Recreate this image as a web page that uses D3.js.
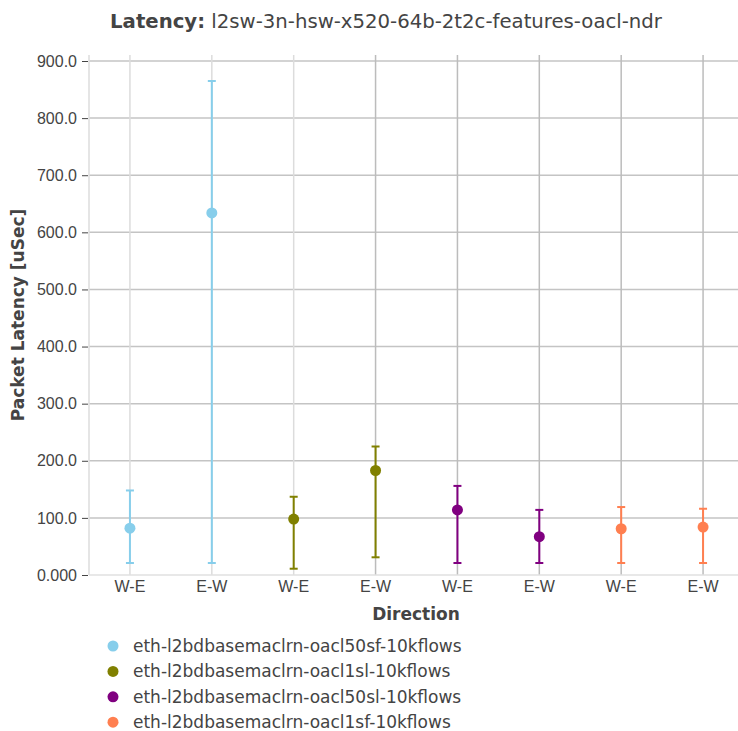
<!DOCTYPE html>
<html>
<head>
<meta charset="utf-8">
<script src="https://cdn.jsdelivr.net/npm/d3@7"></script>
<style>
  body { margin: 0; background: #fff; }
  svg { font-family: "DejaVu Sans", sans-serif; }
</style>
</head>
<body>
<svg id="chart"></svg>
<script>
// chart data
var seriesNames = [
  "eth-l2bdbasemaclrn-oacl50sf-10kflows",
  "eth-l2bdbasemaclrn-oacl1sl-10kflows",
  "eth-l2bdbasemaclrn-oacl50sl-10kflows",
  "eth-l2bdbasemaclrn-oacl1sf-10kflows"
];
var seriesColors = ["#87ceeb", "#808000", "#800080", "#ff7f50"];
var directions = ["W-E", "E-W"];
// per series: [W-E, E-W]
var avgValues = [[82, 634], [98, 183], [114, 67], [81, 84]];
var maxValues = [[148, 865], [137, 225], [156, 114], [119, 116]];
var minValues = [[21, 21], [11, 31], [21, 21], [21, 21]];
var yTicks = [0, 100, 200, 300, 400, 500, 600, 700, 800, 900];

var width = 738, height = 731;
var margin = {left: 89, top: 61, right: -6, bottom: 156};
var TextColor = "#444";

var svg = d3.select("#chart")
    .attr("width", width)
    .attr("height", height);

// one slot per (series, direction)
var slots = [];
seriesNames.forEach(function(name, s) {
  directions.forEach(function(dir, d) {
    slots.push({key: s + "-" + d, s: s, dir: dir,
                avg: avgValues[s][d], max: maxValues[s][d], min: minValues[s][d]});
  });
});

var x = d3.scaleBand()
    .domain(slots.map(function(p) { return p.key; }))
    .range([margin.left, width - margin.right]);
var y = d3.scaleLinear()
    .domain([0, 900])
    .range([height - margin.bottom, margin.top]);

var plotTop = margin.top, plotBottom = height - margin.bottom;

// horizontal grid
svg.append("g").selectAll("line")
  .data(yTicks.slice(1))
  .enter().append("line")
    .attr("x1", margin.left).attr("x2", width)
    .attr("y1", function(d) { return y(d); })
    .attr("y2", function(d) { return y(d); })
    .attr("stroke", "#c4c4c4").attr("stroke-width", 1.5);

// vertical grid
svg.append("g").selectAll("line")
  .data(slots)
  .enter().append("line")
    .attr("x1", function(p) { return x(p.key) + x.bandwidth()/2; })
    .attr("x2", function(p) { return x(p.key) + x.bandwidth()/2; })
    .attr("y1", plotTop - 6).attr("y2", plotBottom)
    .attr("stroke", function(p, i) { return i < 3 ? "#dcdcdc" : "#bcbcbc"; })
    .attr("stroke-width", 1.5);

// left edge and zero line
svg.append("line")
  .attr("x1", margin.left).attr("x2", margin.left)
  .attr("y1", plotTop - 6).attr("y2", plotBottom)
  .attr("stroke", "#dcdcdc").attr("stroke-width", 1.5);
svg.append("line")
  .attr("x1", margin.left).attr("x2", width)
  .attr("y1", y(0)).attr("y2", y(0))
  .attr("stroke", "#e0e0e0").attr("stroke-width", 1.5);

// y axis
var yAxis = svg.append("g")
  .attr("transform", "translate(" + (margin.left - 1) + ",0)")
  .call(d3.axisLeft(y).tickValues(yTicks)
        .tickFormat(function(d) { return d === 0 ? "0.000" : d3.format(".1f")(d); })
        .tickSize(6).tickPadding(5));
yAxis.select(".domain").remove();
yAxis.selectAll(".tick line").attr("stroke", "#444");
yAxis.selectAll("text").style("font-size", "16px").attr("fill", TextColor);

// x axis
var xAxis = svg.append("g")
  .attr("transform", "translate(0," + plotBottom + ")")
  .call(d3.axisBottom(x).tickSize(0).tickPadding(6)
        .tickFormat(function(k) { return slots.find(function(p) { return p.key === k; }).dir; }));
xAxis.select(".domain").remove();
xAxis.selectAll("text").style("font-size", "16px").attr("fill", TextColor);

// error bars and markers
var marks = svg.append("g").selectAll("g")
  .data(slots)
  .enter().append("g")
    .attr("stroke", function(p) { return seriesColors[p.s]; })
    .attr("fill", function(p) { return seriesColors[p.s]; });
marks.append("line")
  .attr("x1", function(p) { return x(p.key) + x.bandwidth()/2; })
  .attr("x2", function(p) { return x(p.key) + x.bandwidth()/2; })
  .attr("y1", function(p) { return y(p.min); })
  .attr("y2", function(p) { return y(p.max); })
  .attr("stroke-width", 2);
["max", "min"].forEach(function(k) {
  marks.append("line")
    .attr("x1", function(p) { return x(p.key) + x.bandwidth()/2 - 4; })
    .attr("x2", function(p) { return x(p.key) + x.bandwidth()/2 + 4; })
    .attr("y1", function(p) { return y(p[k]); })
    .attr("y2", function(p) { return y(p[k]); })
    .attr("stroke-width", 2);
});
marks.append("circle")
  .attr("cx", function(p) { return x(p.key) + x.bandwidth()/2; })
  .attr("cy", function(p) { return y(p.avg); })
  .attr("r", 5.5)
  .attr("stroke", "none");

// title
var title = svg.append("text")
  .attr("x", 386).attr("y", 28)
  .attr("text-anchor", "middle")
  .style("font-size", "19.7px")
  .attr("fill", TextColor);
title.append("tspan").style("font-weight", "bold").text("Latency:");
title.append("tspan").text(" l2sw-3n-hsw-x520-64b-2t2c-features-oacl-ndr");

// axis titles
svg.append("text")
  .attr("x", 416).attr("y", 620)
  .attr("text-anchor", "middle")
  .style("font-size", "17px").style("font-weight", "bold")
  .attr("fill", TextColor)
  .text("Direction");
svg.append("text")
  .attr("transform", "translate(24,315) rotate(-90)")
  .attr("text-anchor", "middle")
  .style("font-size", "17px").style("font-weight", "bold")
  .attr("fill", TextColor)
  .text("Packet Latency [uSec]");

// legend
var legend = svg.append("g").selectAll("g")
  .data(seriesNames)
  .enter().append("g")
    .attr("transform", function(d, i) { return "translate(113," + (646 + i*25.4) + ")"; });
legend.append("circle")
  .attr("r", 5.5)
  .attr("fill", function(d, i) { return seriesColors[i]; });
legend.append("text")
  .attr("x", 20).attr("dy", "0.35em")
  .style("font-size", "17px")
  .attr("fill", TextColor)
  .text(function(d) { return d; });
</script>
</body>
</html>
